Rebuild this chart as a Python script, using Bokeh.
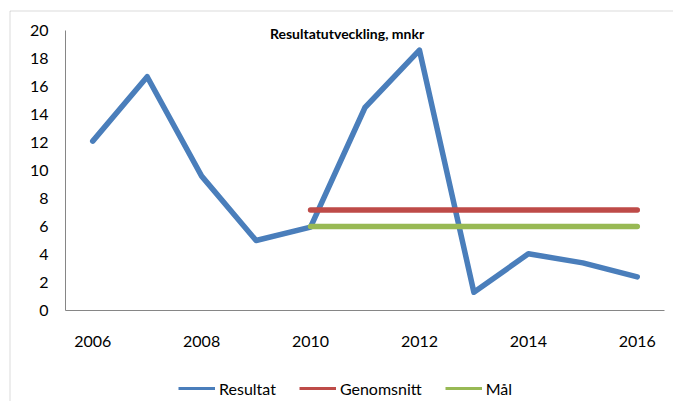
from bokeh.plotting import figure
from bokeh.models import (Range1d, FixedTicker, Legend, LegendItem, Label,
                          BoxAnnotation, ColumnDataSource)
from bokeh.embed import file_html
from bokeh.resources import INLINE

# ---- data ----
years = [2006, 2007, 2008, 2009, 2010, 2011, 2012, 2013, 2014, 2015, 2016]
resultat = [12.1, 16.7, 9.6, 5.0, 5.95, 14.5, 18.6, 1.3, 4.05, 3.4, 2.4]
snitt_years = [2010, 2016]
genomsnitt = [7.17, 7.17]
mal_years = [2010, 2016]
mal = [6.0, 6.0]
x_ticks = [2006, 2008, 2010, 2012, 2014, 2016]
y_ticks = [0, 2, 4, 6, 8, 10, 12, 14, 16, 18, 20]
title_text = "Resultatutveckling, mnkr"
series_names = ["Resultat", "Genomsnitt", "Mål"]

BLUE = "#4A7EBB"
RED = "#BE4B48"
GREEN = "#98B954"
AXIS = "#868686"
FONT = "Lato"

W, H = 673, 401
# plot area (axes box) in canvas pixels
AX_L, AX_R, AX_T, AX_B = 65, 664, 30, 310
X0, X1 = years[0] - 0.5, years[-1] + 0.5
Y0, Y1 = 0, 20
ppx = (AX_R - AX_L) / (X1 - X0)
ppy = (AX_B - AX_T) / (Y1 - Y0)
xr = Range1d(X0 - AX_L / ppx, X1 + (W - AX_R) / ppx)
yr = Range1d(Y0 - (H - AX_B) / ppy, Y1 + AX_T / ppy)

p = figure(width=W, height=H, output_backend="svg", toolbar_location=None,
           x_range=xr, y_range=yr,
           min_border_left=0, min_border_top=0, min_border_bottom=0,
           min_border_right=0)
p.outline_line_color = None
p.xgrid.grid_line_color = None
p.ygrid.grid_line_color = None
p.background_fill_color = "white"
p.border_fill_color = "white"

p.xaxis[0].fixed_location = Y0
p.yaxis[0].fixed_location = X0
p.xaxis[0].bounds = (X0, X1)
p.yaxis[0].bounds = (Y0, Y1)
for ax, ticks in ((p.xaxis[0], x_ticks), (p.yaxis[0], y_ticks)):
    ax.ticker = FixedTicker(ticks=ticks)
    ax.axis_line_color = AXIS
    ax.axis_line_width = 1
    ax.major_tick_line_color = None
    ax.minor_tick_line_color = None
    ax.major_tick_out = 0
    ax.major_tick_in = 0
    ax.major_label_text_font = FONT
    ax.major_label_text_font_size = "16px"
    ax.major_label_text_color = "#000000"
p.xaxis[0].major_label_standoff = 25
p.yaxis[0].major_label_standoff = 17

# outer chart border (top + left); screen y is measured from the bottom here
p.add_layout(BoxAnnotation(left=9.5, top=H - 10.5, right=3000, bottom=-3000,
                           left_units="screen", right_units="screen",
                           top_units="screen", bottom_units="screen",
                           fill_alpha=0, line_color=AXIS, line_width=1))

# thin copies for the legend swatches, hidden under the thick lines
r1 = p.line(years, resultat, line_color=BLUE, line_width=3)
r2 = p.line(snitt_years, genomsnitt, line_color=RED, line_width=3)
r3 = p.line(mal_years, mal, line_color=GREEN, line_width=3)

src = ColumnDataSource(dict(x=years, y=resultat))
p.line("x", "y", source=src, line_color=BLUE, line_width=5.5,
       line_cap="round", line_join="round")
p.line(snitt_years, genomsnitt, line_color=RED, line_width=5.5, line_cap="round")
p.line(mal_years, mal, line_color=GREEN, line_width=5.5, line_cap="round")

legend = Legend(items=[LegendItem(label=series_names[0], renderers=[r1]),
                       LegendItem(label=series_names[1], renderers=[r2]),
                       LegendItem(label=series_names[2], renderers=[r3])],
                orientation="horizontal", location=(178, 3),
                padding=0, margin=0, spacing=23, label_standoff=4,
                glyph_width=37, glyph_height=20, label_height=20,
                label_text_font=FONT, label_text_font_size="16px",
                label_text_color="#000000",
                border_line_color=None, background_fill_alpha=0)
p.add_layout(legend, "center")

p.add_layout(Label(x=2010.67, y=19.78, text=title_text, text_font=FONT,
                   text_font_size="14px", text_font_style="bold",
                   text_align="center", text_baseline="middle",
                   text_color="#000000"))

open("out.html", "w").write(file_html(p, INLINE))
